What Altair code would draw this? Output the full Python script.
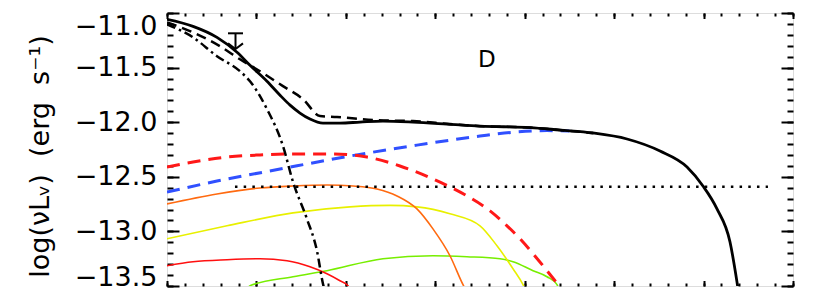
import altair as alt
import pandas as pd

# ---- data (x: position along the frequency axis in decades from left edge; y: log(nu L_nu)) ----
total_x = [0, 0.291, 0.559, 0.783, 0.928, 1.118, 1.264, 1.376, 1.487, 1.599, 1.744, 1.934, 2.158,
           2.415, 2.751, 3.131, 3.5, 4.059, 4.394, 4.763, 5.144, 5.513, 5.815, 5.993, 6.150, 6.295,
           6.373, 6.385]
total_y = [-11.058, -11.122, -11.223, -11.360, -11.479, -11.625, -11.753, -11.844, -11.916, -11.971,
           -12.008, -12.008, -11.999, -11.990, -11.999, -12.017, -12.036, -12.049, -12.072, -12.099,
           -12.154, -12.264, -12.410, -12.584, -12.794, -13.095, -13.460, -13.524]

dash_x = [0, 0.291, 0.593, 0.816, 1.040, 1.297, 1.521, 1.711, 1.901, 2.348, 2.751, 3.164, 3.5, 4.059, 4.394, 4.763]
dash_y = [-11.086, -11.177, -11.305, -11.424, -11.533, -11.670, -11.789, -11.944, -11.953, -11.982,
          -11.990, -12.017, -12.036, -12.049, -12.072, -12.099]

dashdot_x = [0, 0.291, 0.559, 0.816, 0.928, 1.118, 1.297, 1.409, 1.565, 1.677, 1.744, 1.756]
dashdot_y = [-11.104, -11.223, -11.396, -11.533, -11.625, -11.880, -12.218, -12.547, -12.886, -13.178, -13.479, -13.52]

reddash_x = [0, 0.291, 0.671, 1.040, 1.409, 1.856, 2.236, 2.605, 2.974, 3.355, 3.612, 3.802, 3.947,
             4.093, 4.249, 4.372, 4.40]
reddash_y = [-12.410, -12.364, -12.319, -12.300, -12.291, -12.291, -12.319, -12.401, -12.520, -12.675,
             -12.812, -12.949, -13.067, -13.204, -13.360, -13.488, -13.52]

bluedash_x = [0, 0.559, 1.264, 2.046, 2.795, 3.5, 3.869, 4.249, 4.50]
bluedash_y = [-12.640, -12.539, -12.429, -12.310, -12.210, -12.127, -12.092, -12.077, -12.080]

dotted_x = [0.76, 6.72]
dotted_y = [-12.59, -12.59]

orange_x = [0, 0.559, 1.040, 1.409, 1.789, 2.080, 2.348, 2.572, 2.795, 2.974, 3.164, 3.310, 3.33]
orange_y = [-12.748, -12.657, -12.602, -12.584, -12.575, -12.584, -12.611, -12.675, -12.794, -12.977,
            -13.223, -13.488, -13.52]

yellow_x = [0, 0.671, 1.409, 2.046, 2.494, 2.795, 3.164, 3.5, 3.690, 3.869, 3.981, 4.0]
yellow_y = [-13.068, -12.949, -12.830, -12.775, -12.762, -12.775, -12.839, -12.949, -13.132, -13.342, -13.488, -13.52]

red_x = [0, 0.291, 0.671, 1.040, 1.342, 1.599, 1.789, 1.934, 2.024, 2.04]
red_y = [-13.314, -13.278, -13.259, -13.250, -13.269, -13.324, -13.388, -13.452, -13.497, -13.52]

green_x = [0.90, 0.928, 1.409, 1.789, 2.415, 2.974, 3.355, 3.724, 3.869, 4.093, 4.249, 4.361, 4.38]
green_y = [-13.52, -13.497, -13.415, -13.360, -13.250, -13.223, -13.232, -13.250, -13.278, -13.360,
           -13.415, -13.488, -13.52]

# upper limit point
limit_x = [0.766]
limit_top = [-11.186]
limit_tip = [-11.33]

label_x = [3.578]
label_y = [-11.433]
label_text = ["D"]

y_title = "log(νLᵥ)\u00a0\u00a0(erg\u00a0\u00a0s⁻¹)"

x_major = [0, 1, 2, 3, 4, 5, 6, 7]
x_minor = [round(i * 0.2, 2) for i in range(36)]
y_major = [-11.0, -11.5, -12.0, -12.5, -13.0, -13.5]
y_minor = [round(-11.0 - i * 0.1, 2) for i in range(26)]

XDOM = [0, 7]
YDOM = [-13.5, -11.0]

def df(xv, yv):
    return pd.DataFrame({"x": xv, "y": yv})

xs = alt.Scale(domain=XDOM, nice=False, zero=False)
ys = alt.Scale(domain=YDOM, nice=False, zero=False)

def line(xv, yv, color, width, dash=None):
    kw = dict(color=color, strokeWidth=width, clip=True, interpolate="monotone")
    if dash is not None:
        kw["strokeDash"] = dash
    return alt.Chart(df(xv, yv)).mark_line(**kw).encode(
        x=alt.X("x:Q", scale=xs, axis=None),
        y=alt.Y("y:Q", scale=ys, axis=None),
    )

layers = [
    line(green_x, green_y, "#77EE00", 1.6),
    line(red_x, red_y, "#FF1010", 1.6),
    line(yellow_x, yellow_y, "#E8F000", 1.6),
    line(orange_x, orange_y, "#FF6A10", 1.6),
    line(dotted_x, dotted_y, "black", 2.5, [2.5, 6.2]),
    line(bluedash_x, bluedash_y, "#3050FF", 3, [13, 8]),
    line(reddash_x, reddash_y, "#FF1818", 3, [13, 8]),
    line(dashdot_x, dashdot_y, "black", 2.5, [9, 4, 2.5, 4]),
    line(dash_x, dash_y, "black", 2.5, [10, 6]),
    line(total_x, total_y, "black", 2.8),
]

lim_df = pd.DataFrame({"x": limit_x, "top": limit_top, "tip": limit_tip})
layers.append(
    alt.Chart(lim_df).mark_rule(color="black", strokeWidth=2).encode(
        x=alt.X("x:Q", scale=xs, axis=None),
        y=alt.Y("top:Q", scale=ys, axis=None),
        y2="tip:Q",
    )
)
layers.append(
    alt.Chart(lim_df).mark_point(shape="M -1 0 L 1 0", size=225, filled=False, color="black",
                                 strokeWidth=2, opacity=1).encode(
        x=alt.X("x:Q", scale=xs, axis=None),
        y=alt.Y("top:Q", scale=ys, axis=None),
    )
)
layers.append(
    alt.Chart(lim_df).mark_point(shape="M -1 -0.75 L 0 0 L 1 -0.75", size=225, filled=False,
                                 color="black", strokeWidth=2, opacity=1).encode(
        x=alt.X("x:Q", scale=xs, axis=None),
        y=alt.Y("tip:Q", scale=ys, axis=None),
    )
)
layers.append(
    alt.Chart(pd.DataFrame({"x": label_x, "y": label_y, "t": label_text})).mark_text(
        fontSize=23, font="DejaVu Sans", color="black", align="center", baseline="middle"
    ).encode(
        x=alt.X("x:Q", scale=xs, axis=None),
        y=alt.Y("y:Q", scale=ys, axis=None),
        text="t:N",
    )
)

# axis-carrying layers (invisible marks) to get inward ticks on all four sides
base_axis_df = df(dotted_x, dotted_y)

def axis_layer(xaxis, yaxis):
    return alt.Chart(base_axis_df).mark_line(strokeOpacity=0, clip=True).encode(
        x=alt.X("x:Q", scale=xs, axis=xaxis),
        y=alt.Y("y:Q", scale=ys, axis=yaxis),
    )

common = dict(domain=False, grid=False, tickColor="black", tickWidth=2)

layers.append(axis_layer(
    alt.Axis(orient="bottom", values=x_major, tickSize=5.5, offset=-5.5, labels=False, title=None, **common),
    alt.Axis(orient="left", values=y_major, tickSize=12, offset=-12, labels=True, labelFlush=True,
             labelOffset={"condition": {"test": "datum.value == -13.5", "value": 5}, "value": 0},
             format=".1f", labelFontSize=27, labelFont="DejaVu Sans", labelColor="black",
             labelPadding=10, title=y_title, titleFontSize=27, titleY=143,
             titleFont="DejaVu Sans", titleFontWeight="normal", titleColor="black",
             titlePadding=20, **common),
))
layers.append(axis_layer(
    alt.Axis(orient="bottom", values=x_minor, tickSize=3, offset=-3, labels=False, title=None, **common),
    alt.Axis(orient="left", values=y_minor, tickSize=6, offset=-6, labels=False, title=None, **common),
))
layers.append(axis_layer(
    alt.Axis(orient="top", values=x_major, tickSize=5.5, offset=-5.5, labels=False, title=None, **common),
    alt.Axis(orient="right", values=y_major, tickSize=12, offset=-12, labels=False, title=None, **common),
))
layers.append(axis_layer(
    alt.Axis(orient="top", values=x_minor, tickSize=3, offset=-3, labels=False, title=None, **common),
    alt.Axis(orient="right", values=y_minor, tickSize=6, offset=-6, labels=False, title=None, **common),
))

chart = alt.layer(*layers).resolve_axis(x="independent", y="independent").properties(
    width=626, height=273,
    autosize=alt.AutoSizeParams(type="none"),
    padding={"left": 159, "top": 5, "right": 20, "bottom": 5},
).configure_view(stroke="black", strokeWidth=2.5).configure(background="white")

chart.save("out.html", embed_options={"renderer": "svg", "actions": False})
